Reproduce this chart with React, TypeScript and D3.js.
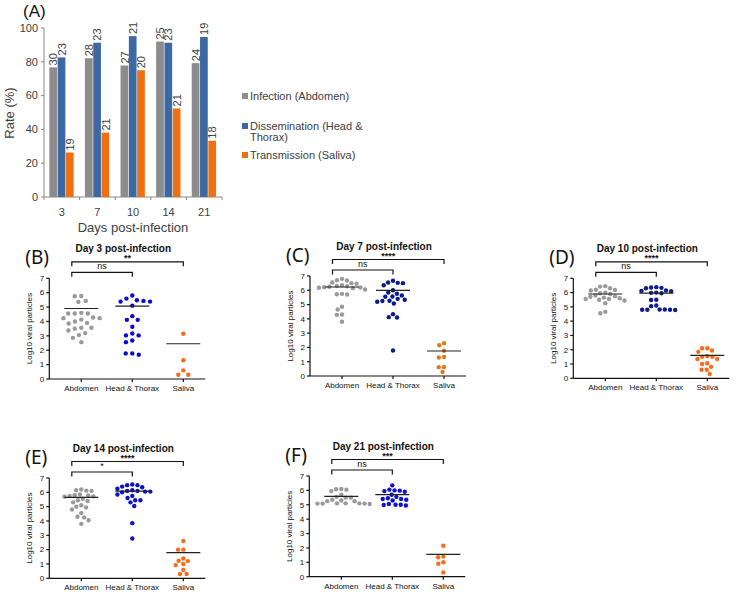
import React from "react";
import * as d3 from "d3";

// ---------- Panel A data ----------
const days = ["3", "7", "10", "14", "21"];
const infectionRate = [76.7, 82.1, 77.8, 92.0, 79.2];
const disseminationRate = [82.6, 91.3, 95.2, 91.3, 94.7];
const transmissionRate = [26.3, 38.1, 75.0, 52.4, 33.3];
const infectionN = [30, 28, 27, 25, 24];
const disseminationN = [23, 23, 21, 23, 19];
const transmissionN = [19, 21, 20, 21, 18];
const seriesNames = ["Infection (Abdomen)", "Dissemination (Head &", "Transmission (Saliva)"];
const yTicksA = [0, 20, 40, 60, 80, 100];

// ---------- Panels B-F data (log10 viral particles) ----------
const tissues = ["Abdomen", "Head & Thorax", "Saliva"];
const yTicksB = [0, 1, 2, 3, 4, 5, 6, 7];

const day3Abdomen = [5.75, 5.77, 5.36, 5.43, 4.55, 4.55, 4.55, 4.6, 4.23, 4.13, 4.23, 4.27, 3.9, 3.86, 3.56, 3.56, 3.5, 3.37, 3.19, 3.05, 2.86, 2.56, 4.0];
const day3Head = [5.8, 5.59, 5.38, 5.38, 5.43, 5.47, 5.1, 4.37, 4.11, 4.11, 3.63, 3.16, 3.03, 3.03, 2.68, 2.56, 1.69, 1.78, 1.78];
const day3Saliva = [3.15, 1.3, 0.6, 0.3, 0.3];
const day3Lines = [4.9, 5.06, 2.45];

const day7Abdomen = [6.8, 6.7, 6.68, 6.55, 6.5, 6.45, 6.35, 6.3, 6.28, 6.25, 6.22, 6.2, 6.18, 6.15, 6.05, 5.75, 5.72, 5.7, 4.85, 4.65, 4.3, 4.28, 3.8];
const day7Head = [6.67, 6.55, 6.52, 6.5, 6.35, 6.0, 5.85, 5.76, 5.64, 5.57, 5.55, 5.4, 5.34, 5.27, 5.25, 5.2, 5.07, 4.33, 4.12, 4.1, 1.78];
const day7Saliva = [2.3, 2.15, 1.77, 1.33, 1.3, 0.63, 0.62, 0.28];
const day7Lines = [6.23, 6.0, 1.75];

const day10Abdomen = [6.45, 6.42, 6.3, 6.2, 6.18, 6.15, 6.0, 5.95, 5.9, 5.8, 5.75, 5.7, 5.65, 5.6, 5.55, 5.55, 5.5, 5.45, 5.25, 4.65, 4.55];
const day10Head = [6.38, 6.36, 6.33, 6.3, 6.15, 6.12, 6.1, 6.0, 5.98, 5.95, 5.5, 5.48, 5.1, 5.05, 4.82, 4.8, 4.8, 4.78, 4.8, 4.82];
const day10Saliva = [2.1, 2.1, 1.95, 1.85, 1.55, 1.5, 1.5, 1.35, 1.35, 1.05, 1.0, 0.8, 0.6, 0.6, 0.3];
const day10Lines = [5.9, 5.96, 1.6];

const day14Abdomen = [6.15, 6.2, 6.12, 6.1, 5.85, 5.8, 5.78, 5.75, 5.72, 5.7, 5.55, 5.45, 5.4, 5.3, 5.1, 5.0, 4.95, 4.8, 4.55, 4.3, 4.25, 4.05, 3.8];
const day14Head = [6.55, 6.5, 6.5, 6.4, 6.35, 6.25, 6.15, 6.1, 6.1, 6.05, 6.05, 6.0, 5.85, 5.75, 5.6, 5.45, 5.45, 5.3, 5.05, 3.85, 2.78];
const day14Saliva = [2.6, 2.0, 2.0, 1.38, 1.22, 1.2, 1.0, 0.92, 0.58, 0.3, 0.3];
const day14Lines = [5.65, 6.09, 1.79];

const day21Abdomen = [6.1, 6.08, 6.05, 5.95, 5.7, 5.55, 5.5, 5.5, 5.35, 5.3, 5.25, 5.25, 5.1, 5.1, 5.08, 5.08, 5.1, 5.05, 5.08];
const day21Head = [6.35, 6.05, 6.0, 5.98, 5.95, 5.9, 5.7, 5.55, 5.45, 5.4, 5.4, 5.35, 5.3, 5.05, 5.0, 5.0, 4.98, 4.95];
const day21Saliva = [2.15, 1.4, 1.35, 1.0, 0.9, 0.3];
const day21Lines = [5.58, 5.7, 1.55];

const FONT = "'Liberation Sans', Arial, sans-serif";

type Placed = { v: number; py: number; x: number };

function swarm(values: number[], y: (v: number) => number, d: number): Placed[] {
  const sorted = values.map((v) => ({ v, py: y(v), x: 0 })).sort((a, b) => a.py - b.py);
  const placed: Placed[] = [];
  for (const p of sorted) {
    const intervals: [number, number][] = [];
    for (const q of placed) {
      const dy = p.py - q.py;
      if (Math.abs(dy) < d) {
        const dx = Math.sqrt(d * d - dy * dy);
        intervals.push([q.x - dx, q.x + dx]);
      }
    }
    const cands = [0, ...intervals.flatMap(([a, b]) => [a, b])].sort((a, b) => Math.abs(a) - Math.abs(b) || a - b);
    let x = 0;
    for (const c of cands) {
      if (intervals.every(([a, b]) => c <= a + 1e-6 || c >= b - 1e-6)) {
        x = c;
        break;
      }
    }
    placed.push({ ...p, x });
  }
  return placed;
}

function PanelA() {
  const x0 = 44, x1 = 222, yB = 197, yT = 28;
  const x = d3.scaleBand<string>().domain(days).range([x0, x1]).paddingInner(0.3).paddingOuter(0.15);
  const sub = d3.scaleBand<number>().domain([0, 1, 2]).range([0, x.bandwidth()]);
  const y = d3.scaleLinear().domain([0, 100]).range([yB, yT]);
  const colors = ["#8c8c8c", "#3d69a3", "#ee7013"];
  const series = [infectionRate, disseminationRate, transmissionRate];
  const counts = [infectionN, disseminationN, transmissionN];
  const step = x.step();
  return (
    <g fontFamily={FONT} fill="#404040">
      <text x={23} y={17} fontSize={17} fontFamily={FONT} fill="#111">(A)</text>
      {/* axes */}
      <line x1={x0} x2={x0} y1={yT} y2={yB} stroke="#888" strokeWidth={1} />
      <line x1={x0} x2={x1} y1={yB} y2={yB} stroke="#888" strokeWidth={1} />
      {yTicksA.map((t) => (
        <g key={t}>
          <line x1={x0 - 3} x2={x0} y1={y(t)} y2={y(t)} stroke="#888" />
          <text x={x0 - 6} y={y(t)} dy="0.35em" textAnchor="end" fontSize={11}>{t}</text>
        </g>
      ))}
      {d3.range(days.length + 1).map((i) => (
        <line key={i} x1={x0 + i * step} x2={x0 + i * step} y1={yB} y2={yB + 3} stroke="#888" />
      ))}
      {days.map((dd) => (
        <text key={dd} x={(x(dd) ?? 0) + x.bandwidth() / 2} y={212} dy="0.35em" textAnchor="middle" fontSize={11}>{dd}</text>
      ))}
      <text x={133} y={227} dy="0.35em" textAnchor="middle" fontSize={13}>Days post-infection</text>
      <text transform={`translate(9,113) rotate(-90)`} textAnchor="middle" dy="0.35em" fontSize={13}>Rate (%)</text>
      {/* bars */}
      {series.map((s, si) =>
        s.map((v, i) => {
          const bx = (x(days[i]) ?? 0) + (sub(si) ?? 0);
          const bw = sub.bandwidth();
          return (
            <g key={`${si}-${i}`}>
              <rect x={bx} y={y(v)} width={bw - 0.6} height={yB - y(v)} fill={colors[si]} />
              <text transform={`translate(${bx + bw / 2},${y(v) - 2}) rotate(-90)`} dy="0.35em" fontSize={11}>{counts[si][i]}</text>
            </g>
          );
        })
      )}
      {/* legend */}
      {seriesNames.map((n, i) => {
        const ly = [96, 126, 155][i];
        return (
          <g key={n}>
            <rect x={242} y={ly - 3} width={6} height={6} fill={colors[i]} />
            <text x={250} y={ly} dy="0.35em" fontSize={11}>{n}</text>
          </g>
        );
      })}
      <text x={250} y={137} dy="0.35em" fontSize={11}>Thorax)</text>
    </g>
  );
}

type PanelCfg = {
  label: string;
  title: string;
  ax: number;
  y0: number;
  y7: number;
  groups: number[][];
  lines: number[];
  sig: string[];
  blue: string;
  orange: string;
  d: number;
};

const panels: PanelCfg[] = [
  { label: "(B)", title: "Day 3 post-infection", ax: 49.3, y0: 379, y7: 278.3, groups: [day3Abdomen, day3Head, day3Saliva], lines: day3Lines, sig: ["ns", "**"], blue: "#0b0bcc", orange: "#fa6a1c", d: 6.6 },
  { label: "(C)", title: "Day 7 post-infection", ax: 310, y0: 376, y7: 276, groups: [day7Abdomen, day7Head, day7Saliva], lines: day7Lines, sig: ["ns", "****"], blue: "#0c1a8c", orange: "#dc7a22", d: 5.2 },
  { label: "(D)", title: "Day 10 post-infection", ax: 573.3, y0: 378.3, y7: 278.3, groups: [day10Abdomen, day10Head, day10Saliva], lines: day10Lines, sig: ["ns", "****"], blue: "#101c8e", orange: "#fb6b1c", d: 5.2 },
  { label: "(E)", title: "Day 14 post-infection", ax: 49.3, y0: 578.3, y7: 478, groups: [day14Abdomen, day14Head, day14Saliva], lines: day14Lines, sig: ["*", "****"], blue: "#0e12c4", orange: "#fb6b1c", d: 5.2 },
  { label: "(F)", title: "Day 21 post-infection", ax: 309.3, y0: 576.7, y7: 476, groups: [day21Abdomen, day21Head, day21Saliva], lines: day21Lines, sig: ["ns", "***"], blue: "#0f12cc", orange: "#fb6b1c", d: 5.2 },
];

function ScatterPanel({ p }: { p: PanelCfg }) {
  const y = d3.scaleLinear().domain([0, 7]).range([p.y0, p.y7]);
  const x = d3.scalePoint<string>().domain(tissues).range([p.ax + 32, p.ax + 134]);
  const colors = ["#9a9a9a", p.blue, p.orange];
  const xEnd = p.ax + 156;
  const bl = (x(tissues[0]) ?? 0) - 9.5;
  const lowY = p.y7 - 6;
  const upY = p.y7 - 16.5;
  const cH = x(tissues[1]) ?? 0;
  const cS = x(tissues[2]) ?? 0;
  return (
    <g fontFamily={FONT} fill="#111">
      <text x={p.ax - 24} y={p.y7 - 14} fontSize={19} fontFamily="'Noto Sans', sans-serif" fill="#111">{p.label}</text>
      <text x={p.ax + 74} y={p.y7 - 30} dy="0.35em" textAnchor="middle" fontSize={10} fontWeight="bold">{p.title}</text>
      {/* brackets */}
      <path d={`M${bl},${lowY + 4.5}V${lowY}H${cH}V${lowY + 4.5}`} fill="none" stroke="#111" strokeWidth={1.2} />
      <path d={`M${bl},${upY + 4.5}V${upY}H${cS}V${upY + 4.5}`} fill="none" stroke="#111" strokeWidth={1.2} />
      <text x={(bl + cH) / 2} y={lowY - 3} textAnchor="middle" fontSize={9}>{p.sig[0]}</text>
      <text x={(bl + cS) / 2} y={upY - 1} textAnchor="middle" fontSize={9} fontWeight="bold">{p.sig[1]}</text>
      {/* axes */}
      <line x1={p.ax} x2={p.ax} y1={p.y7} y2={p.y0} stroke="#111" strokeWidth={1.2} />
      <line x1={p.ax} x2={xEnd} y1={p.y0} y2={p.y0} stroke="#111" strokeWidth={1.2} />
      {yTicksB.map((t) => (
        <g key={t}>
          <line x1={p.ax - 3} x2={p.ax} y1={y(t)} y2={y(t)} stroke="#111" strokeWidth={1.2} />
          <text x={p.ax - 5} y={y(t)} dy="0.35em" textAnchor="end" fontSize={8}>{t}</text>
        </g>
      ))}
      {tissues.map((t) => (
        <g key={t}>
          <line x1={x(t)} x2={x(t)} y1={p.y0} y2={p.y0 + 3} stroke="#111" strokeWidth={1.2} />
          <text x={x(t)} y={p.y0 + 9} dy="0.35em" textAnchor="middle" fontSize={8}>{t}</text>
        </g>
      ))}
      <text transform={`translate(${p.ax - 20},${(p.y0 + p.y7) / 2}) rotate(-90)`} textAnchor="middle" dy="0.35em" fontSize={8}>Log10 viral particles</text>
      {/* points */}
      {p.groups.map((g, gi) => {
        const cx = x(tissues[gi]) ?? 0;
        return (
          <g key={gi}>
            {swarm(g, y, p.d).map((pt, i) => (
              <circle key={i} cx={cx + pt.x} cy={pt.py} r={2.2} fill={colors[gi]} />
            ))}
            <line x1={cx - 17} x2={cx + 17} y1={y(p.lines[gi])} y2={y(p.lines[gi])} stroke="#222" strokeWidth={1.2} />
          </g>
        );
      })}
    </g>
  );
}

export default function App() {
  return (
    <div style={{ position: "absolute", left: 0, top: 0, width: 742, height: 592, background: "#fff" }}>
      <svg width={742} height={592} style={{ display: "block" }}>
        <rect width={742} height={592} fill="#fff" />
        <PanelA />
        {panels.map((p) => (
          <ScatterPanel key={p.label} p={p} />
        ))}
      </svg>
    </div>
  );
}
